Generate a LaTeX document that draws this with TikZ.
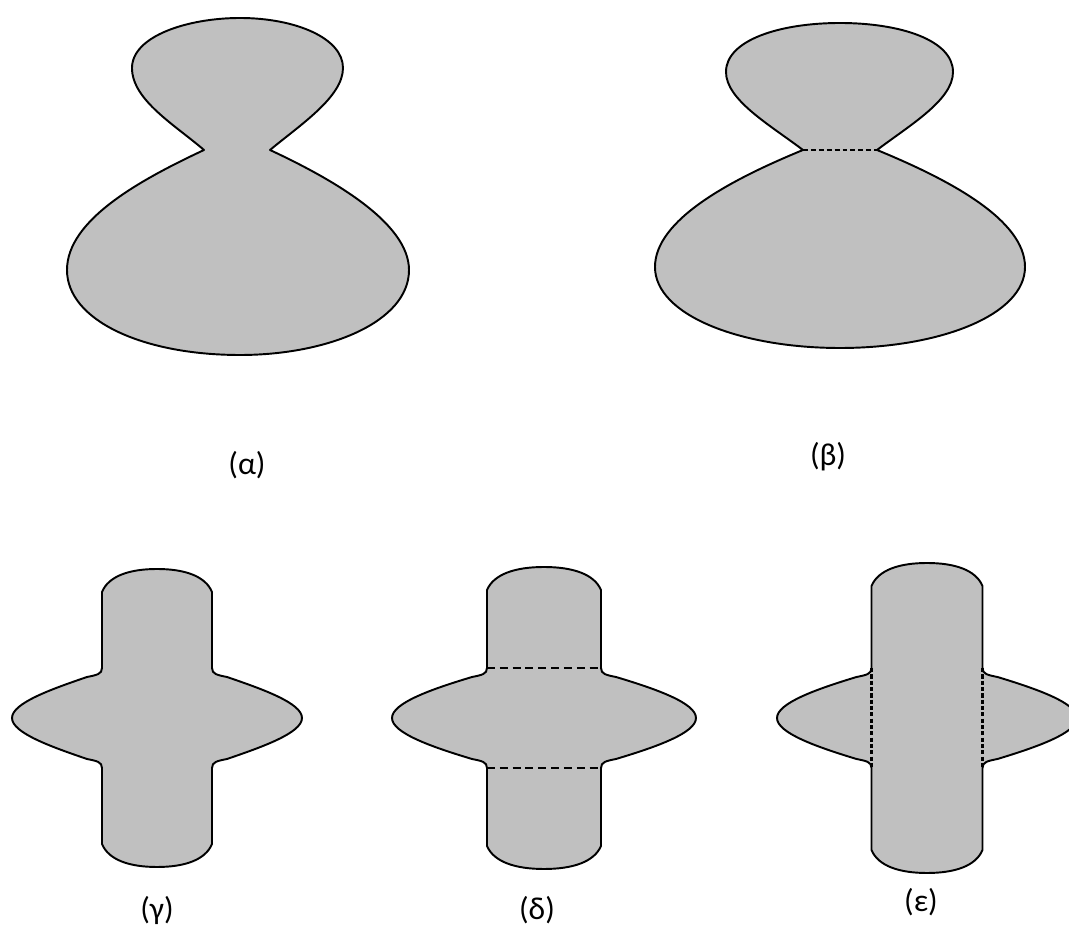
\documentclass[tikz,border=0pt]{standalone}
\usepackage{fontspec}
\setmainfont{Carlito}

\definecolor{shapegray}{RGB}{192,192,192}
\tikzset{
	body/.style={draw=black, fill=shapegray, line width=1.1pt, line join=round},
	cutline/.style={black, line width=0.9pt, dash pattern=on 4.5pt off 2.8pt},
	neckline/.style={black, line width=0.9pt, dash pattern=on 2.8pt off 1.7pt},
	seamline/.style={black, line width=1.2pt, dash pattern=on 2.4pt off 1.2pt},
	caption/.style={font=\fontsize{18}{22}\selectfont}
}
% bar with a lens across it: #1 half bar width, #2 half lens width, #3 half height
\newcommand{\crossbody}[3]{
	\draw[body] (-#1,-50) -- (-#1,-#3+23)
		.. controls (-#1*0.88,-#3+7) and (-#1*0.5,-#3) .. (0,-#3)
		.. controls (#1*0.5,-#3) and (#1*0.88,-#3+7) .. (#1,-#3+23)
		-- (#1,-50)
		.. controls (#1,-44) and (#1+5,-43) .. (#1+15,-41)
		.. controls (#2-40,-29) and (#2,-15) .. (#2,0)
		.. controls (#2,15) and (#2-40,29) .. (#1+15,41)
		.. controls (#1+5,43) and (#1,44) .. (#1,50)
		-- (#1,#3-23)
		.. controls (#1*0.88,#3-7) and (#1*0.5,#3) .. (0,#3)
		.. controls (-#1*0.5,#3) and (-#1*0.88,#3-7) .. (-#1,#3-23)
		-- (-#1,50)
		.. controls (-#1,44) and (-#1-5,43) .. (-#1-15,41)
		.. controls (-#2+40,29) and (-#2,15) .. (-#2,0)
		.. controls (-#2,-15) and (-#2+40,-29) .. (-#1-15,-41)
		.. controls (-#1-5,-43) and (-#1,-44) .. (-#1,-50) -- cycle;
}

\begin{document}
\begin{tikzpicture}[x=0.02cm, y=-0.02cm]
	\clip (0,0) rectangle (1069,928);

	% (a) two lobes touching at a point
	\draw[body] (204,150) .. controls (175,125) and (132,100) .. (132,68)
		.. controls (132,36) and (188,18) .. (240,18)
		.. controls (295,18) and (343,38) .. (343,68)
		.. controls (343,97) and (300,125) .. (270,150)
		.. controls (330,178) and (409,222) .. (409,270)
		.. controls (409,322) and (328,355) .. (240,355)
		.. controls (142,355) and (67,320) .. (67,270)
		.. controls (67,220) and (140,180) .. (204,150) -- cycle;

	% (b) two lobes joined by a neck
	\coordinate (neckL) at (803,150);
	\coordinate (neckR) at (877,150);
	\draw[body] (neckL) .. controls (770,125) and (726,100) .. (726,72)
		.. controls (726,40) and (780,23) .. (840,23)
		.. controls (900,23) and (953,40) .. (953,72)
		.. controls (953,100) and (910,125) .. (neckR)
		.. controls (950,180) and (1025,220) .. (1025,267)
		.. controls (1025,315) and (940,348) .. (840,348)
		.. controls (740,348) and (655,315) .. (655,267)
		.. controls (655,220) and (730,180) .. (neckL) -- cycle;
	\draw[neckline] (neckL) -- (neckR);

	% (c)
	\begin{scope}[shift={(157,718)}]
		\crossbody{55}{145}{149}
	\end{scope}

	% (d)
	\begin{scope}[shift={(544,718)}]
		\crossbody{57}{152}{151}
		\draw[cutline] (-57,-50) -- (57,-50);
		\draw[cutline] (-57,50) -- (57,50);
	\end{scope}

	% (e)
	\begin{scope}[shift={(927,718)}]
		\crossbody{55.5}{150}{155}
		\draw[seamline] (-55.5,-50) -- (-55.5,50);
		\draw[seamline] (55.5,-50) -- (55.5,50);
	\end{scope}

	\node[caption] (capalpha) at (247,465) {(α)};
	\node[caption] (capbeta) at (828,457) {(β)};
	\node[caption] (capgamma) at (157,910) {(γ)};
	\node[caption] (capdelta) at (537,910) {(δ)};
	\node[caption] (capepsilon) at (921,902) {(ε)};
\end{tikzpicture}
\end{document}
